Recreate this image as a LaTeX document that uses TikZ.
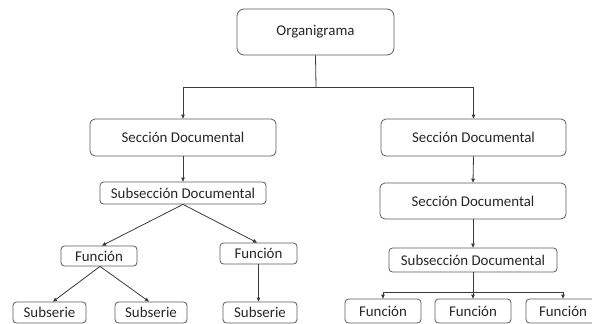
\documentclass[tikz,border=0pt]{standalone}
\usepackage{fontspec}
\setmainfont{Carlito}
\usetikzlibrary{arrows.meta}
\definecolor{boxline}{HTML}{5A5A5A}
\definecolor{conline}{HTML}{3A3A3A}
\begin{document}
\begin{tikzpicture}[x=1pt,y=-1pt,
  box/.style={draw=boxline, line width=0.8pt, rounded corners=#1, inner sep=0pt,
    font=\fontsize{14.9}{17}\selectfont, text=black!85},
  box/.default=3.5pt,
  con/.style={draw=conline, line width=0.8pt},
  arr/.style={con, -{Triangle[length=4pt,width=3.6pt]}}]
\useasboundingbox (0,0) rectangle (592,324);
\clip (0,0) rectangle (592,324);
% nodes
\node[box=7pt, minimum width=157pt, minimum height=46pt] (org) at (315.5,32) {Organigrama};
\node[box=5pt, minimum width=186pt, minimum height=37pt] (secL) at (183,137.5) {Sección Documental};
\node[box=5pt, minimum width=185pt, minimum height=37pt] (secR) at (473.5,137.5) {Sección Documental};
\node[box, minimum width=166pt, minimum height=22pt] (subL) at (183,193) {Subsección Documental};
\node[box, minimum width=76pt, minimum height=20pt] (funL) at (99,256) {Función};
\node[box, minimum width=77pt, minimum height=21pt] (funR) at (258.5,253.5) {Función};
\node[box, minimum width=73pt, minimum height=21pt] (ssL) at (49.5,312.5) {Subserie};
\node[box, minimum width=72pt, minimum height=21pt] (ssM) at (151,312.5) {Subserie};
\node[box, minimum width=74pt, minimum height=21pt] (ssR) at (260,312.5) {Subserie};
\node[box=5pt, minimum width=186pt, minimum height=36pt] (sec2) at (473,201) {Sección Documental};
\node[box, minimum width=168pt, minimum height=24pt] (sub2) at (473,260) {Subsección Documental};
\node[box, minimum width=76pt, minimum height=24pt] (f1) at (383,311) {Función};
\node[box, minimum width=76pt, minimum height=24pt] (f2) at (473,311) {Función};
\node[box, minimum width=74pt, minimum height=24pt] (f3) at (563,311) {Función};
% connectors
\coordinate (j) at (316,87);
\draw[con] (org.south) -- (j);
\draw[arr] (j) -| (secL.north);
\draw[arr] (j) -| (secR.north);
\draw[arr] (secL.south) -- (secL.south |- subL.north);
\draw[arr] (subL.south) -- ([xshift=3pt]funL.north);
\draw[arr] (subL.south) -- ([xshift=-1.5pt]funR.north);
\draw[arr] ([xshift=1pt]funL.south) -- ([xshift=3.5pt]ssL.north);
\draw[arr] ([xshift=1pt]funL.south) -- ([xshift=-2pt]ssM.north);
\draw[arr] (funR.south) -- (funR.south |- ssR.north);
\draw[arr] (secR.south) -- (sec2.north);
\draw[arr] (sec2.south) -- (sub2.north);
\coordinate (b) at (473,292);
\draw[con] (sub2.south) -- (b);
\draw[arr] (b) -- (f2.north);
\draw[arr] (b) -| (f1.north);
\draw[arr] (b) -| (f3.north);
\end{tikzpicture}
\end{document}
